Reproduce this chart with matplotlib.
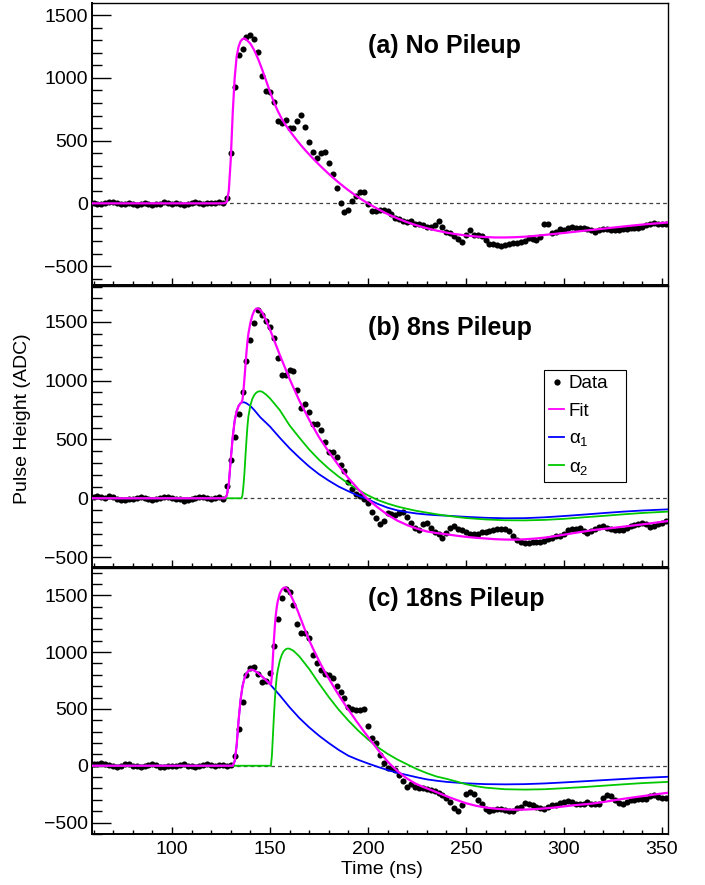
import numpy as np
import matplotlib
matplotlib.use("Agg")
import matplotlib.pyplot as plt
from matplotlib.ticker import MultipleLocator
from matplotlib.lines import Line2D

plt.rcParams['font.family'] = ['Liberation Sans', 'DejaVu Sans']
plt.rcParams['mathtext.fontset'] = 'custom'
plt.rcParams['mathtext.rm'] = 'Liberation Sans'
plt.rcParams['mathtext.it'] = 'Liberation Sans'
plt.rcParams['mathtext.bf'] = 'Liberation Sans:bold'

# sample times (ns), one ADC sample every 2 ns
t_data = np.arange(60, 353, 2)

# ---- (a) no pileup ----
data_a = [2, -5, -8, 3, 12, 14, 6, -6, -4, 5, -3, -10, -2, 4, -6, -12, -9, -2, 8, 5,
          -3, 2, -5, -14, -4, 6, 9, 3, -2, 4, 1, 6, 12, 5,
          40, 400, 930, 1180, 1230, 1330, 1340, 1310, 1210, 1015,
          895, 885, 808, 660, 640, 665, 600, 600, 655, 705,
          610, 490, 410, 365, 400, 410, 320, 235, 120, 5,
          -70, -55, 20, 55, 90, 90, -3, -60, -60, -55,
          -50, -60, -88, -120, -125, -140, -145, -140, -165, -168,
          -176, -187, -190, -176, -141, -190, -232,
          -240, -259, -281, -307, -251, -211, -249, -251, -257, -295,
          -321, -326, -331, -339, -330, -322, -318, -316, -310, -303,
          -280, -282, -290, -272, -165, -165, -240, -225, -206, -212,
          -198, -192, -196, -193, -198, -204, -216, -232, -214, -207,
          -206, -212, -214, -210, -206, -202, -197, -194, -196, -188,
          -176, -162, -158, -162, -168, -165]

fit_a_t = [59, 126, 127, 128, 129, 130, 131, 132, 133, 134, 135, 136, 137, 138, 140, 142,
           144, 146, 148, 150, 152, 154, 156, 158, 160, 162, 164, 166, 168, 170, 172, 174,
           176, 178, 180, 182, 184, 186, 188, 190, 192, 194, 196, 198, 200, 205, 210, 215,
           220, 225, 230, 235, 240, 245, 250, 255, 260, 265, 270, 275, 280, 285, 290, 295,
           300, 310, 320, 330, 340, 353.5]
fit_a = [0, 0, 2, 12, 100, 350, 720, 1000, 1170, 1250, 1292, 1310, 1314, 1305, 1274, 1220,
         1150, 1068, 980, 890, 808, 736, 675, 624, 580, 538, 498, 460, 424, 390, 357, 325,
         294, 264, 235, 207, 180, 154, 129, 105, 82, 60, 39, 19, 0, -45, -85, -120,
         -150, -176, -198, -217, -233, -246, -256, -264, -269, -272, -272, -270, -266, -260, -252, -244,
         -236, -219, -202, -185, -169, -152]

# ---- (b) 8 ns pileup ----
data_b = [10, 18, 12, 4, 22, 15, -5, -12, -18, -10, -2, 5, 8, 3, -8, -14, -10, 2, 12, 15,
          4, -8, -6, -22, -16, -3, 4, 8, 12, 2, -4, 5, 10, -5,
          105, 325, 525, 715, 900, 1170, 1345, 1490, 1600, 1560,
          1510, 1455, 1360, 1190, 1050, 1050, 1090, 1080, 920, 770,
          800, 731, 629, 629, 581, 481, 396, 396, 354, 283,
          235, 141, 77, 34, 17, -9, -43, -119, -165, -221,
          -193, -128, -136, -145, -128, -119, -162, -207, -250, -270,
          -221, -207, -255, -289, -306, -340, -298,
          -255, -240, -258, -268, -285, -300, -306, -300, -290, -283,
          -278, -270, -262, -262, -265, -275, -320, -352, -368, -378,
          -380, -376, -375, -372, -365, -350, -336, -325, -317, -300,
          -272, -265, -258, -257, -275, -292, -282, -265, -245, -238,
          -250, -262, -268, -272, -266, -250, -238, -228, -215, -208,
          -222, -245, -235, -218, -208, -195]

fit_b_t = [59, 127, 128, 129, 130, 131, 132, 133, 134, 135, 135.5, 136, 136.5, 137, 137.5,
           138, 138.5, 139, 140, 141, 142, 143, 144, 145, 146, 148, 150, 155, 160, 165,
           170, 175, 180, 185, 190, 195, 200, 205, 210, 215, 220, 225, 230, 235, 240, 245,
           250, 255, 260, 265, 270, 275, 280, 285, 290, 295, 300, 305, 310, 315, 320, 325,
           330, 340, 353.5]
fit_b = [0, 0, 25, 120, 330, 520, 660, 740, 785, 808, 815, 840, 920, 1020, 1130,
         1240, 1330, 1400, 1490, 1555, 1595, 1613, 1614, 1602, 1582, 1515, 1435, 1220, 1015, 830,
         668, 520, 395, 280, 172, 78, -10, -78, -140, -190, -228, -258, -282, -296, -306, -318,
         -328, -336, -342, -348, -351, -352, -349, -343, -335, -323, -310, -296, -283, -270, -261, -252,
         -242, -222, -193]

a1_b_t = [59, 127, 128, 129, 130, 131, 132, 133, 134, 135, 136, 137, 138, 140, 142, 145,
          150, 155, 160, 165, 170, 175, 180, 185, 190, 195, 200, 205, 210, 215, 220, 225,
          230, 235, 240, 250, 260, 270, 280, 290, 300, 310, 320, 330, 340, 353.5]
a1_b = [0, 0, 25, 120, 330, 520, 660, 740, 785, 808, 817, 815, 808, 785, 750, 690,
        610, 515, 425, 345, 270, 205, 150, 100, 60, 22, -8, -48, -80, -103, -118, -130,
        -138, -144, -148, -158, -166, -170, -169, -162, -151, -139, -126, -114, -104, -94]

a2_b_t = [59, 135.5, 136, 136.5, 137, 137.5, 138, 138.5, 139, 140, 141, 142, 143, 144, 145,
          146, 148, 150, 155, 160, 165, 170, 175, 180, 185, 190, 195, 200, 205, 210, 215,
          220, 225, 230, 235, 240, 250, 260, 270, 280, 290, 300, 310, 320, 330, 340, 353.5]
a2_b = [0, 0, 30, 110, 220, 360, 490, 610, 695, 790, 845, 878, 898, 908, 910,
        906, 882, 850, 750, 620, 515, 415, 328, 252, 185, 125, 72, 25, -15, -45, -70,
        -90, -108, -122, -136, -148, -168, -180, -187, -188, -184, -175, -162, -150, -137, -125, -113]

# ---- (c) 18 ns pileup ----
data_c = [15, 18, 20, 14, 5, -5, -8, 2, 15, 12, 0, -6, -10, -4, 5, 14, 8, -8, -14, -6,
          2, -4, 6, 12, 2, -6, -10, -3, 10, 12, 8, -4, 5, 4, 2, 5,
          88, 323, 558, 798, 860, 872, 805, 740, 745, 819,
          1054, 1289, 1473, 1555, 1532, 1415, 1245, 1165, 1165, 1121,
          974, 901, 842, 804, 800, 769, 701, 651, 599, 520,
          496, 490, 490, 495, 352, 247, 197, 94, 21, -18,
          -20, -35, -82, -135, -185, -165, -185, -195, -200, -205,
          -215, -222, -240, -262, -282,
          -318, -370, -395, -345, -250, -228, -245, -300, -340, -377,
          -398, -390, -380, -377, -390, -395, -400, -375, -360, -330,
          -340, -350, -362, -375, -378, -360, -345, -342, -330, -320,
          -312, -318, -335, -340, -335, -322, -335, -340, -335, -280,
          -262, -265, -305, -330, -335, -318, -305, -300, -296, -294,
          -290, -270, -258, -275, -285, -280]

fit_c_t = [59, 131, 132, 133, 134, 135, 136, 137, 138, 139, 140, 141, 142, 144, 146, 148,
           150, 150.5, 151, 151.5, 152, 152.5, 153, 153.5, 154, 155, 156, 157, 158, 159,
           160, 162, 164, 166, 168, 170, 172, 174, 176, 178, 180, 182, 184, 186, 188, 190,
           192, 194, 196, 198, 200, 202, 204, 206, 208, 210, 212, 214, 216, 218, 220, 224,
           228, 232, 236, 240, 245, 250, 255, 260, 265, 270, 275, 280, 285, 290, 295, 300,
           305, 310, 315, 320, 325, 330, 335, 340, 345, 353.5]
fit_c = [0, 0, 40, 180, 400, 580, 700, 770, 812, 835, 845, 845, 838, 815, 785, 752,
         718, 715, 790, 950, 1100, 1230, 1330, 1400, 1450, 1515, 1550, 1566, 1570, 1555,
         1525, 1450, 1370, 1280, 1190, 1105, 1030, 960, 890, 828, 768, 710, 652, 598, 545, 495,
         445, 395, 348, 300, 255, 210, 165, 120, 78, 38, 2, -30, -60, -88, -113, -155,
         -186, -212, -240, -268, -300, -330, -352, -368, -378, -384, -387, -386, -382, -376, -368, -358,
         -348, -340, -332, -320, -306, -292, -280, -268, -256, -237]

a1_c_t = [59, 131, 132, 133, 134, 135, 136, 137, 138, 139, 140, 141, 142, 144, 146, 148,
          150, 155, 160, 165, 170, 175, 180, 185, 190, 195, 200, 205, 210, 215, 220, 225,
          230, 235, 240, 250, 260, 270, 280, 290, 300, 310, 320, 330, 340, 353.5]
a1_c = [0, 0, 40, 180, 400, 580, 700, 770, 812, 835, 845, 845, 838, 815, 785, 752,
        718, 620, 515, 420, 338, 265, 200, 140, 88, 52, 20, -10, -38, -62, -82, -102,
        -120, -132, -142, -155, -162, -164, -162, -156, -147, -137, -127, -117, -107, -97]

a2_c_t = [59, 150.5, 151, 151.5, 152, 152.5, 153, 153.5, 154, 155, 156, 157, 158, 159, 160,
          162, 165, 170, 175, 180, 185, 190, 195, 200, 205, 210, 215, 220, 225, 230, 235,
          240, 245, 250, 255, 260, 270, 280, 290, 300, 310, 320, 330, 340, 353.5]
a2_c = [0, 0, 90, 260, 430, 580, 700, 790, 842, 922, 975, 1008, 1025, 1032, 1030,
        1012, 962, 852, 725, 605, 495, 398, 310, 232, 163, 105, 55, 12, -30, -65, -95,
        -115, -138, -163, -180, -193, -207, -210, -207, -198, -188, -176, -164, -153, -142]

titles = ['(a) No Pileup', '(b) 8ns Pileup', '(c) 18ns Pileup']
ylims = [(-651, 1595), (-587, 1805), (-601, 1738)]

MAGENTA = '#ff00ff'
BLUE = '#0000ff'
GREEN = '#00c800'

W, H = 705, 885
fig = plt.figure(figsize=(W / 100, H / 100), dpi=100)

# panel frames in pixels: (top, bottom)
frames = [(3.3, 285.0), (286.0, 567.3), (568.3, 834.0)]
left_px, right_px = 92, 668
axes = []
for top, bot in frames:
    ax = fig.add_axes([left_px / W, 1 - bot / H, (right_px - left_px) / W, (bot - top) / H])
    axes.append(ax)


def style(ax, ylim, show_x):
    ax.set_xlim(59.2, 353.1)
    ax.set_ylim(*ylim)
    ax.xaxis.set_major_locator(MultipleLocator(50))
    ax.xaxis.set_minor_locator(MultipleLocator(10))
    ax.yaxis.set_major_locator(MultipleLocator(500))
    ax.yaxis.set_minor_locator(MultipleLocator(100))
    ax.tick_params(axis='y', which='major', direction='in', length=14, width=1,
                   left=True, right=False, labelsize=14, pad=3)
    ax.tick_params(axis='y', which='minor', direction='in', length=7, width=1,
                   left=True, right=False)
    ax.tick_params(axis='x', which='major', direction='in', length=5.3, width=1,
                   top=False, bottom=True, labelsize=14, pad=5, labelbottom=show_x)
    ax.tick_params(axis='x', which='minor', direction='in', length=2.6, width=1,
                   top=False, bottom=True)
    for sp in ax.spines.values():
        sp.set_linewidth(1.0)
    ax.spines['left'].set_linewidth(1.4)
    ax.spines['bottom'].set_linewidth(1.4)


panels = [
    (data_a, fit_a_t, fit_a, None, None, None, None),
    (data_b, fit_b_t, fit_b, a1_b_t, a1_b, a2_b_t, a2_b),
    (data_c, fit_c_t, fit_c, a1_c_t, a1_c, a2_c_t, a2_c),
]

for i, (ax, p) in enumerate(zip(axes, panels)):
    data, ft, fv, a1t, a1v, a2t, a2v = p
    style(ax, ylims[i], i == 2)
    ax.axhline(0, color='#404040', lw=0.9, ls=(0, (3, 2.5)), zorder=1)
    ax.plot(t_data, data, 'o', color='black', ms=4.4, mew=0, zorder=2)
    if a1t is not None:
        ax.plot(a1t, a1v, color=BLUE, lw=1.3, zorder=3)
        ax.plot(a2t, a2v, color=GREEN, lw=1.3, zorder=3)
    ax.plot(ft, fv, color=MAGENTA, lw=1.6, zorder=4)

title_y = [46, 328, 599]
for ty, txt in zip(title_y, titles):
    fig.text(368 / W, 1 - ty / H, txt, fontsize=18, fontweight='bold', ha='left', va='center')

handles = [
    Line2D([], [], ls='none', marker='o', color='black', ms=4.5, mew=0),
    Line2D([], [], color=MAGENTA, lw=1.3),
    Line2D([], [], color=BLUE, lw=1.3),
    Line2D([], [], color=GREEN, lw=1.3),
]
# legend box spans 544..626 px across and 370..483 px down in the figure
lx0 = (544 - left_px) / (right_px - left_px)
lw_ = (626 - 544) / (right_px - left_px)
ltop = (567.3 - 370) / (567.3 - 286)
lh = (483 - 370) / (567.3 - 286)
leg = axes[1].legend(handles, ['Data', 'Fit', r'$\alpha_1$', r'$\alpha_2$'],
                     loc='upper left', bbox_to_anchor=(lx0, ltop - lh, lw_, lh), mode='expand',
                     borderaxespad=0, fontsize=13.5, handlelength=0.8, handletextpad=0.25,
                     borderpad=0.27, labelspacing=0.55, fancybox=False, framealpha=1,
                     edgecolor='black', frameon=True)
leg.get_frame().set_linewidth(0.8)

fig.text(23 / W, 1 - 419 / H, 'Pulse Height (ADC)', rotation=90, fontsize=14,
         ha='center', va='center')
fig.text(382 / W, 1 - 870 / H, 'Time (ns)', fontsize=14, ha='center', va='center')

fig.savefig('out.png', dpi=100)
